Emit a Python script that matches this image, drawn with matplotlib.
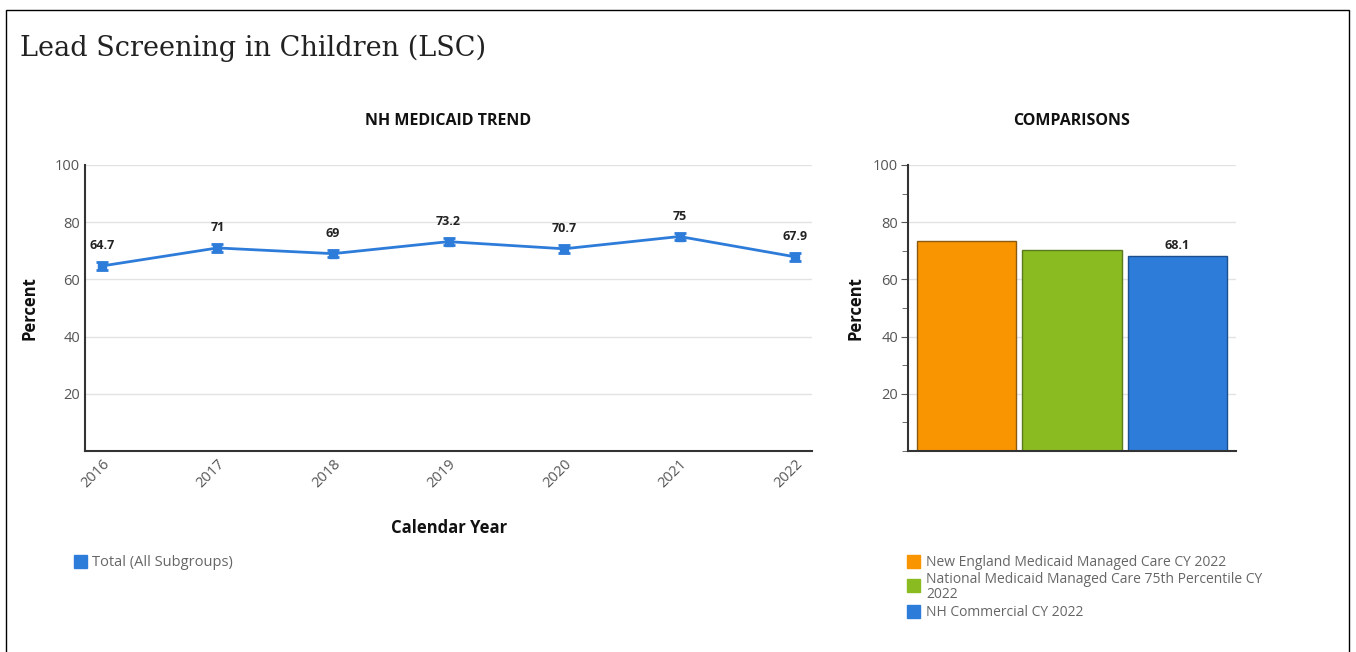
import matplotlib
matplotlib.use("Agg")
import matplotlib.pyplot as plt
from matplotlib.patches import Rectangle
from matplotlib.ticker import MultipleLocator

years = ["2016", "2017", "2018", "2019", "2020", "2021", "2022"]
trend_values = [64.7, 71, 69, 73.2, 70.7, 75, 67.9]
trend_labels = ["64.7", "71", "69", "73.2", "70.7", "75", "67.9"]

comp_names = ["New England Medicaid Managed Care CY 2022",
              "National Medicaid Managed Care 75th Percentile CY\n2022",
              "NH Commercial CY 2022"]
comp_values = [73.6, 70.3, 68.1]
comp_labels = ["", "", "68.1"]
comp_colors = ["#F99500", "#8ABB21", "#2E7CDA"]
comp_edges = ["#8a5a10", "#5a7a20", "#1d4f8c"]

W, H = 1356, 652
plt.rcParams['font.family'] = ['Open Sans', 'DejaVu Sans']
fig = plt.figure(figsize=(W / 100, H / 100), dpi=100)

def px(x0, y0, x1, y1):
    return [x0 / W, 1 - y1 / H, (x1 - x0) / W, (y1 - y0) / H]

# border
fig.patches.append(Rectangle((6 / W, -0.1), (1349 - 6) / W, 1.1 - 10 / H,
                             transform=fig.transFigure, fill=False,
                             edgecolor="black", linewidth=1.0))

fig.text(20 / W, 1 - 48 / H, "Lead Screening in Children (LSC)",
         family="DejaVu Serif", fontsize=19.5, color="#222222", va="center", ha="left")

line_color = "#2E7CDA"
grid_color = "#e3e3e3"
tick_color = "#555555"

# ---- left: trend ----
ax = fig.add_axes(px(85, 165, 812, 451))
xs = list(range(len(years)))
ax.plot(xs, trend_values, color=line_color, linewidth=2, zorder=3)
ax.errorbar(xs, trend_values, yerr=1.3, fmt='s', color=line_color, markersize=6,
            capsize=4, capthick=2, elinewidth=2, zorder=4)
for x, v, lab in zip(xs, trend_values, trend_labels):
    ax.annotate(lab, (x, v), xytext=(0, 10), textcoords="offset points",
                ha="center", va="bottom", fontsize=9, fontweight="bold", color="#222222")
ax.set_xlim(-0.147, 6.147)
ax.set_ylim(0, 100)
ax.set_yticks([20, 40, 60, 80, 100])
ax.yaxis.grid(True, color=grid_color, linewidth=1)
ax.set_axisbelow(True)
ax.set_xticks(xs)
ax.set_xticklabels(years, rotation=45, ha="right", rotation_mode="anchor")
ax.tick_params(axis="both", length=0, colors=tick_color, labelsize=10.5)
ax.tick_params(axis="x", pad=4)
for s in ["top", "right"]:
    ax.spines[s].set_visible(False)
for s in ["left", "bottom"]:
    ax.spines[s].set_color("#333333")
    ax.spines[s].set_linewidth(1.5)
ax.set_ylabel("Percent", fontsize=12, fontweight="bold", color="#111111", labelpad=12)
ax.set_title("NH MEDICAID TREND", fontsize=11.5, fontweight="bold", color="#111111", pad=29)
fig.text(449 / W, 1 - 528 / H, "Calendar Year", fontsize=12, fontweight="bold",
         color="#111111", ha="center", va="center")

# legend left
fig.patches.append(Rectangle((74 / W, 1 - 568 / H), 13 / W, 13 / H,
                             transform=fig.transFigure, color=line_color))
fig.text(92 / W, 1 - 562 / H, "Total (All Subgroups)", fontsize=10.5,
         color="#666666", va="center", ha="left")

# ---- right: comparisons ----
bx = fig.add_axes(px(908, 165, 1236, 451))
pos = list(range(len(comp_values)))
bars = bx.bar(pos, comp_values, width=0.94, color=comp_colors, edgecolor=comp_edges, linewidth=1)
for p, v, lab in zip(pos, comp_values, comp_labels):
    if lab:
        bx.annotate(lab, (p, v), xytext=(0, 3), textcoords="offset points",
                    ha="center", va="bottom", fontsize=9, fontweight="bold", color="#222222")
bx.set_xlim(-0.555, 2.555)
bx.set_ylim(0, 100)
bx.set_yticks([20, 40, 60, 80, 100])
bx.yaxis.set_minor_locator(MultipleLocator(10))
bx.yaxis.grid(True, color=grid_color, linewidth=1)
bx.set_axisbelow(True)
bx.set_xticks([])
bx.tick_params(axis="y", which="major", length=5, colors=tick_color, labelsize=10.5, pad=2)
bx.tick_params(axis="y", which="minor", length=4, colors="#555555")
for s in ["top", "right"]:
    bx.spines[s].set_visible(False)
for s in ["left", "bottom"]:
    bx.spines[s].set_color("#333333")
    bx.spines[s].set_linewidth(1.5)
bx.set_ylabel("Percent", fontsize=12, fontweight="bold", color="#111111", labelpad=6)
bx.set_title("COMPARISONS", fontsize=11.5, fontweight="bold", color="#111111", pad=29)

# legend right
leg_y = [562, 586, 612]
text_y = [562, 587, 612]
for c, name, ly, ty in zip(comp_colors, comp_names, leg_y, text_y):
    fig.patches.append(Rectangle((907 / W, 1 - (ly + 6) / H), 13 / W, 13 / H,
                                 transform=fig.transFigure, color=c))
    fig.text(926 / W, 1 - ty / H, name, fontsize=10, color="#666666",
             va="center", ha="left", linespacing=0.95)

fig.savefig("out.png", dpi=100)
